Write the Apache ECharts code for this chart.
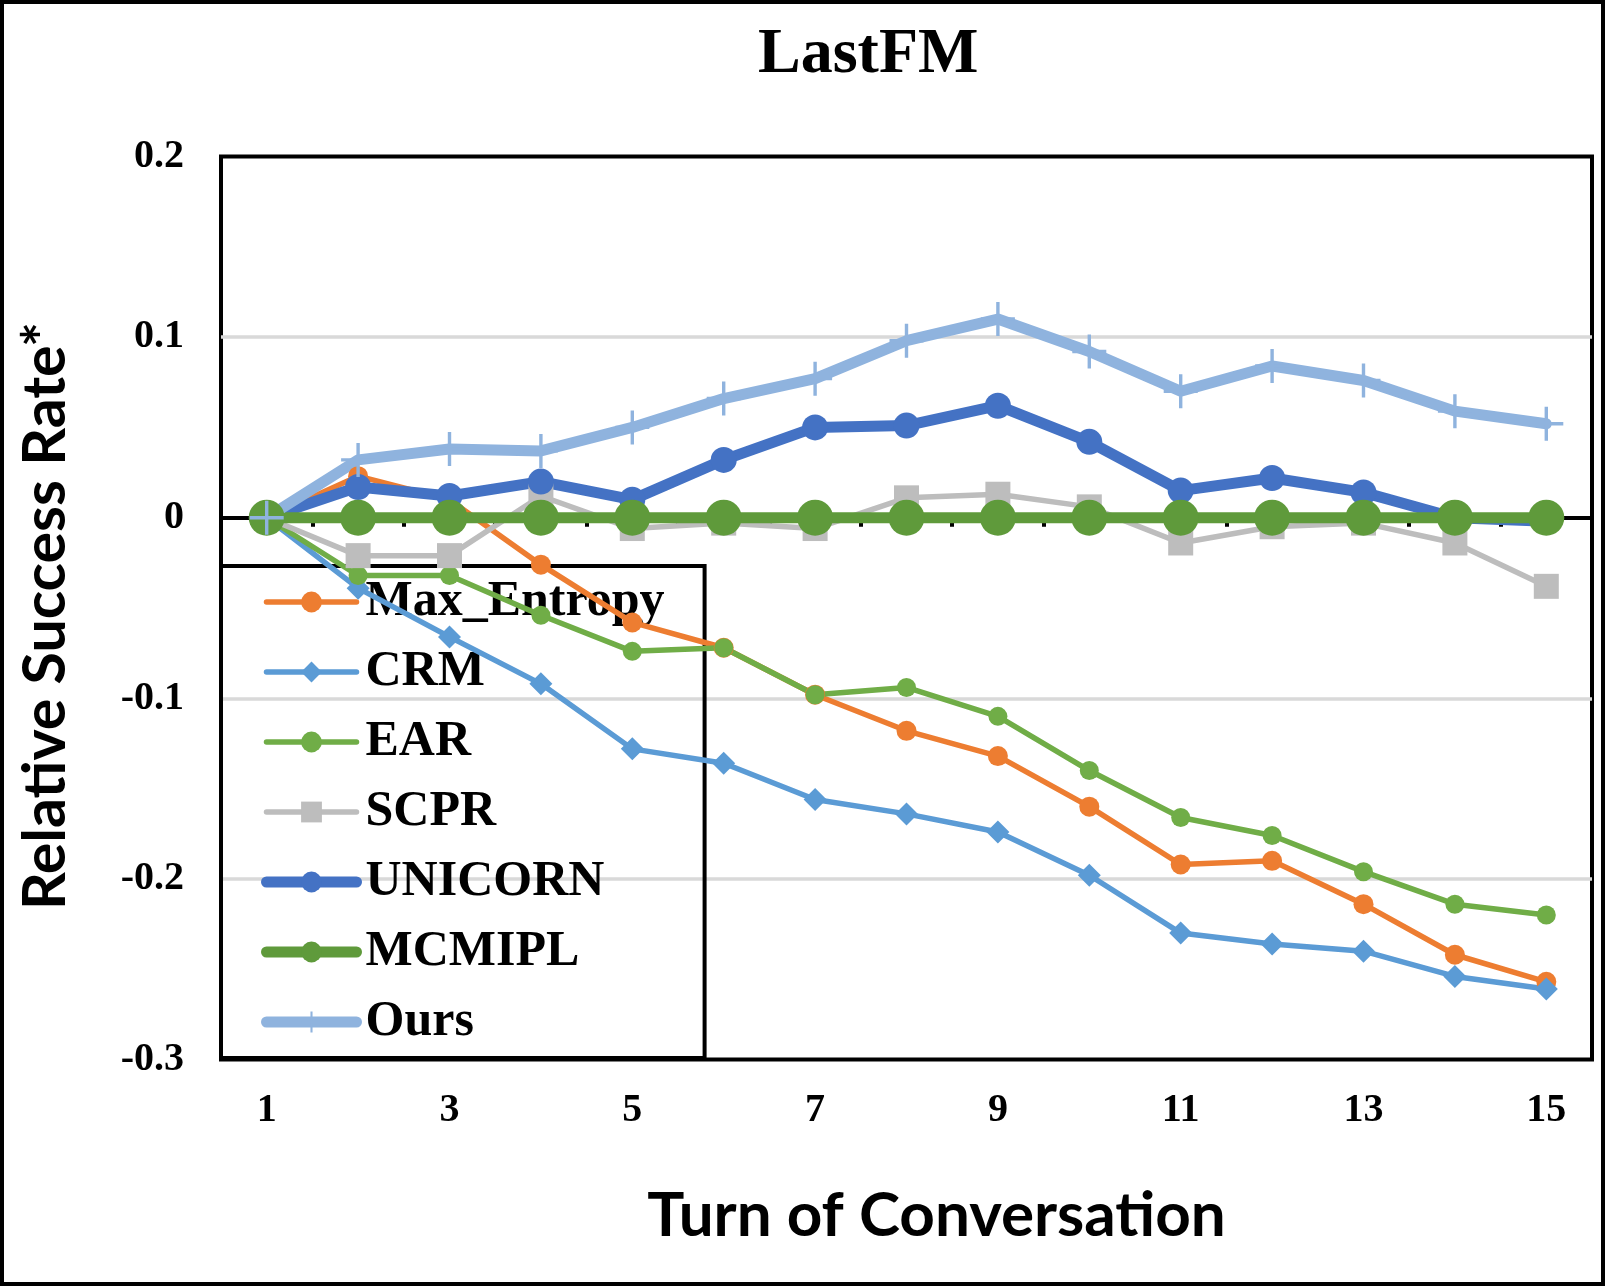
<!DOCTYPE html>
<html>
<head>
<meta charset="utf-8">
<script src="https://cdn.jsdelivr.net/npm/echarts@6/dist/echarts.min.js"></script>
<style>
html,body{margin:0;padding:0;background:#fff;}
#c{width:1605px;height:1286px;}
</style>
</head>
<body>
<div id="c"></div>
<script>
// ---- data ----
const turns = ['1','2','3','4','5','6','7','8','9','10','11','12','13','14','15'];
const maxEntropy = [0, 0.023, 0.010, -0.026, -0.058, -0.072, -0.098, -0.118, -0.132, -0.160, -0.192, -0.190, -0.214, -0.242, -0.257];
const crm        = [0, -0.039, -0.066, -0.092, -0.128, -0.136, -0.156, -0.164, -0.174, -0.198, -0.230, -0.236, -0.240, -0.254, -0.261];
const ear        = [0, -0.032, -0.032, -0.054, -0.074, -0.072, -0.098, -0.094, -0.110, -0.140, -0.166, -0.176, -0.196, -0.214, -0.220];
const scpr       = [0, -0.021, -0.021, 0.012, -0.006, -0.003, -0.006, 0.011, 0.013, 0.006, -0.014, -0.005, -0.003, -0.014, -0.038];
const unicorn    = [0, 0.017, 0.012, 0.020, 0.010, 0.032, 0.050, 0.051, 0.062, 0.042, 0.015, 0.022, 0.014, 0, -0.002];
const mcmipl     = [0, 0, 0, 0, 0, 0, 0, 0, 0, 0, 0, 0, 0, 0, 0];
const ours       = [0, 0.032, 0.038, 0.037, 0.050, 0.066, 0.077, 0.098, 0.110, 0.092, 0.070, 0.084, 0.076, 0.059, 0.052];
const seriesNames = ['Max_Entropy', 'CRM', 'EAR', 'SCPR', 'UNICORN', 'MCMIPL', 'Ours'];
const yMin = -0.3, yMax = 0.2, yStep = 0.1;

// ---- styles ----
const SERIF = 'Liberation Serif';
const SANS = 'Lato';
const plusPath = 'path://M9,0 L11,0 L11,9 L20,9 L20,11 L11,11 L11,20 L9,20 L9,11 L0,11 L0,9 L9,9 Z';

function mk(name, data, color, symbol, size, width) {
  return {
    name: name, type: 'line', data: data, xAxisIndex: 0, yAxisIndex: 0,
    symbol: symbol, symbolSize: size, showSymbol: true,
    lineStyle: { color: color, width: width, cap: 'round', join: 'round' },
    itemStyle: { color: color },
    emphasis: { disabled: true },
    animation: false
  };
}

const chart = echarts.init(document.getElementById('c'), null, { renderer: 'canvas' });
chart.setOption({
  backgroundColor: '#ffffff',
  animation: false,
  title: {
    text: 'LastFM', left: 758, top: 23, padding: 0,
    textStyle: { fontFamily: SERIF, fontWeight: 'bold', fontSize: 64, color: '#000' }
  },
  graphic: [{
    type: 'rect', silent: true, z: 10,
    shape: { x: 2, y: 2, width: 1601, height: 1282 },
    style: { fill: 'none', stroke: '#000', lineWidth: 4 }
  }],
  grid: {
    left: 221, right: 13, top: 156.5, bottom: 226.5,
    show: true, borderColor: '#000', borderWidth: 4, backgroundColor: 'transparent'
  },
  legend: {
    orient: 'vertical', left: 221, top: 566, z: 1,
    padding: [11, 40, 11, 40],
    itemWidth: 90, itemHeight: 26, itemGap: 20,
    borderColor: '#000', borderWidth: 4, backgroundColor: 'transparent',
    selectedMode: false,
    lineStyle: { width: 'inherit', cap: 'round' },
    textStyle: { fontFamily: SERIF, fontWeight: 'bold', fontSize: 50, color: '#000', lineHeight: 50, padding: [0, 0, 0, 4] },
    data: seriesNames
  },
  xAxis: [{
    type: 'category', data: turns, boundaryGap: true, position: 'bottom', z: 1,
    axisLine: { show: true, onZero: true, lineStyle: { color: '#000', width: 4 } },
    axisTick: { show: true, interval: 0, length: 9, lineStyle: { color: '#000', width: 4 } },
    axisLabel: { show: false },
    splitLine: { show: false }
  }, {
    type: 'category', data: turns, boundaryGap: true, position: 'bottom',
    axisLine: { show: false, onZero: false },
    axisTick: { show: false },
    splitLine: { show: false },
    axisLabel: { interval: 1, margin: 31, fontFamily: SERIF, fontWeight: 'bold', fontSize: 40, color: '#000' },
    name: 'Turn of Conversation', nameLocation: 'middle', nameGap: 125,
    nameTextStyle: { fontFamily: SANS, fontWeight: 'bold', fontSize: 62, color: '#000', padding: [0, 0, 0, 60] }
  }],
  yAxis: {
    type: 'value', min: yMin, max: yMax, interval: yStep, z: 0,
    axisLine: { show: false }, axisTick: { show: false },
    splitLine: { show: true, showMinLine: false, showMaxLine: false, lineStyle: { color: '#D9D9D9', width: 3.5 } },
    axisLabel: {
      margin: 37, fontFamily: SERIF, fontWeight: 'bold', fontSize: 40, color: '#000',
      formatter: function (v) { return String(Math.round(v * 10) / 10); }
    },
    name: 'Relative Success Rate*', nameLocation: 'middle', nameRotate: 90, nameGap: 146,
    nameTextStyle: { fontFamily: SANS, fontWeight: 'bold', fontSize: 59, color: '#000', padding: [0, 16, 0, 0] }
  },
  series: [
    mk('Max_Entropy', maxEntropy, '#ED7D31', 'circle', 20, 5.5),
    mk('CRM', crm, '#5B9BD5', 'diamond', 23, 5.5),
    mk('EAR', ear, '#70AD47', 'circle', 19, 5.5),
    mk('SCPR', scpr, '#BDBDBD', 'rect', 25, 5.5),
    mk('UNICORN', unicorn, '#4472C4', 'circle', 26, 11),
    mk('MCMIPL', mcmipl, '#5F9A3B', 'circle', 36, 11),
    mk('Ours', ours, '#8FB3DE', plusPath, 34, 11)
  ]
});
</script>
</body>
</html>
